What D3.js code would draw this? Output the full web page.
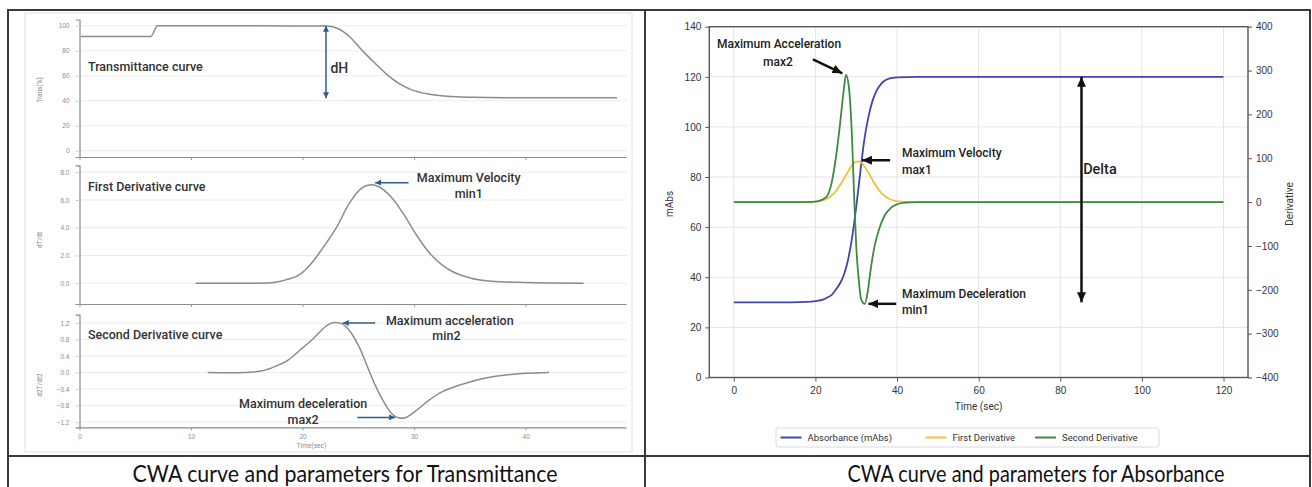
<!DOCTYPE html>
<html>
<head>
<meta charset="utf-8">
<script src="https://cdn.jsdelivr.net/npm/d3@7"></script>
<style>
  body { margin: 0; background: #fff; }
  svg { display: block; font-family: Roboto, "Noto Sans", sans-serif; }
</style>
</head>
<body>
<svg id="chart" width="1312" height="487"></svg>
<script>
// ---- left panel data (transmittance) ----
const transTime  = [0.1, 6.4, 7.0, 22.1, 23.1, 24.2, 25.3, 26.5, 27.6, 28.7, 29.8, 31.4, 32.9, 35.1, 38.1, 48.2];
const transValue = [91.5, 91.5, 100, 99.8, 98.0, 91.4, 80.7, 70.0, 60.7, 53.5, 48.7, 45.2, 43.6, 42.8, 42.5, 42.5];

const dT1Time  = [10.4, 15.5, 17.4, 18.5, 19.7, 20.8, 21.9, 23.1, 24.2, 25.3, 26.1, 26.8, 27.9, 29.1, 30.2, 31.4, 32.5, 33.6, 35.1, 37.0, 40.0, 45.2];
const dT1Value = [0, 0, 0.05, 0.24, 0.6, 1.44, 2.64, 4.1, 5.77, 6.85, 7.09, 6.97, 6.25, 4.93, 3.49, 2.16, 1.32, 0.77, 0.36, 0.14, 0.05, 0];

const dT2Time  = [11.5, 14.8, 16.4, 17.5, 18.7, 19.8, 21.0, 22.1, 22.8, 23.6, 24.3, 25.1, 25.8, 26.5, 27.3, 28.0, 28.6, 29.2, 30.2, 31.4, 32.5, 34.4, 36.3, 38.2, 40.0, 42.1];
const dT2Value = [0, 0, 0.04, 0.14, 0.3, 0.55, 0.83, 1.12, 1.21, 1.17, 0.98, 0.6, 0.15, -0.3, -0.72, -1.0, -1.1, -1.1, -0.92, -0.66, -0.47, -0.28, -0.14, -0.06, -0.02, 0];

const transTicks = [0, 20, 40, 60, 80, 100];
const dT1Ticks = [0, 2, 4, 6, 8];
const dT2Ticks = [-1.2, -0.8, -0.4, 0, 0.4, 0.8, 1.2];
const leftTimeTicks = [0, 10, 20, 30, 40];

// ---- right panel data (absorbance) ----
const absTime  = [0, 10, 18, 20, 22, 23, 24, 25, 26, 27, 28, 29, 30, 31, 32, 33, 34, 35, 36, 37, 38, 40, 45, 60, 120];
const absValue = [30, 30, 30.2, 30.5, 31.2, 32, 33, 35, 37.5, 41, 47, 56, 68, 82, 95, 104, 110.5, 114.5, 117, 118.5, 119.3, 119.8, 120, 120, 120];

const firstTime  = [0, 16, 18.4, 20.4, 22.4, 24.4, 26.4, 27.4, 28.4, 29.4, 30.4, 31.4, 32.4, 33.4, 34.4, 36.4, 38.4, 40.4, 42, 45, 120];
const firstValue = [0, 0, 0.3, 1.5, 6, 18, 44, 60, 76, 89, 93, 89, 76, 60, 44, 18, 6, 1.5, 0.3, 0, 0];

const secondTime  = [0, 17, 19, 20, 21, 22, 23, 24, 25, 26, 27, 27.5, 28.2, 29, 29.5, 30, 30.6, 31.2, 32.1, 32.8, 33.6, 34.4, 35.5, 37, 38.5, 40, 42, 45, 120];
const secondValue = [0, 0, 0.5, 1, 3, 7, 16, 45, 100, 175, 260, 290, 262, 140, 10, -100, -175, -222, -232, -205, -150, -105, -65, -30, -13, -5, -1, 0, 0];

const absTicks = [0, 20, 40, 60, 80, 100, 120, 140];
const derTicks = [-400, -300, -200, -100, 0, 100, 200, 300, 400];
const timeTicks = [0, 20, 40, 60, 80, 100, 120];

const legendItems = [["Absorbance (mAbs)", "#4343b5"], ["First Derivative", "#f0c03c"], ["Second Derivative", "#3f8a3f"]];

let svg = d3.select("#chart");

// arrow markers
let defs = svg.append("defs");
let addMarker = (id, color, w, h) => {
    defs.append("marker")
        .attr("id", id)
        .attr("viewBox", `0 0 ${w} ${h}`)
        .attr("refX", w).attr("refY", h / 2)
        .attr("markerWidth", w).attr("markerHeight", h)
        .attr("markerUnits", "userSpaceOnUse")
        .attr("orient", "auto-start-reverse")
        .append("path")
        .attr("d", `M0,0L${w},${h / 2}L0,${h}Z`)
        .attr("fill", color)
}
addMarker("blueHead", "#2b5f8e", 6, 6)
addMarker("blackHead", "#111", 10, 9)

// ============ LEFT PANEL ============
let drawLeft = () => {
    svg.append("rect").attr("x", 25).attr("y", 13).attr("width", 607).attr("height", 439)
       .attr("fill", "none").attr("stroke", "#e2e2e2").attr("stroke-width", 1)

    let x = d3.scaleLinear().domain([0, 49]).range([79.5, 626])

    let panels = [
        { t: transTime, v: transValue, y: d3.scaleLinear().domain([-5, 105]).range([157, 19.5]), curve: d3.curveMonotoneX,
          ticks: transTicks, fmt: d3.format("d"), label: "Trans(%)", labelY: 90, title: "Transmittance curve", titleV: 67.8 },
        { t: dT1Time, v: dT1Value, y: d3.scaleLinear().domain([-1.5, 8.5]).range([304, 165.3]), curve: d3.curveCatmullRom,
          ticks: dT1Ticks, fmt: d3.format(".1f"), label: "dT/dt", labelY: 240, title: "First Derivative curve", titleV: 6.96 },
        { t: dT2Time, v: dT2Value, y: d3.scaleLinear().domain([-1.33, 1.4]).range([427.3, 314.7]), curve: d3.curveCatmullRom,
          ticks: dT2Ticks, fmt: d3.format(".1f"), label: "d2T/dt2", labelY: 385, title: "Second Derivative curve", titleV: 0.92 }
    ]

    panels.forEach((p, i) => {
        let g = svg.append("g")
        // grid
        g.selectAll(".grid").data(p.ticks).enter().append("line")
         .attr("x1", x(0)).attr("x2", 627)
         .attr("y1", (d) => p.y(d)).attr("y2", (d) => p.y(d))
         .attr("stroke", "#ececec")
        // y axis
        let ya = g.append("g").attr("transform", `translate(${x(0)},0)`)
                  .call(d3.axisLeft(p.y).tickValues(p.ticks).tickFormat(p.fmt).tickSize(4).tickPadding(6))
        ya.select(".domain").attr("stroke", "#8a8a8a").attr("stroke-width", 1.2)
        ya.selectAll(".tick line").attr("stroke", "#cfcfcf")
        ya.selectAll("text").attr("fill", "#8a8a8a").style("font-size", "6.5px")
        // x axis
        let xa = g.append("g").attr("transform", `translate(0,${p.y.range()[0]})`)
                  .call(d3.axisBottom(x).tickValues(leftTimeTicks).tickSize(3).tickSizeOuter(0).tickPadding(4))
        xa.select(".domain").attr("stroke", "#8a8a8a").attr("stroke-width", 1.2)
        xa.selectAll(".tick line").attr("stroke", "#9a9a9a")
        xa.selectAll("text").attr("fill", "#8a8a8a").style("font-size", "6.5px")
        if (i < 2) xa.selectAll("text").remove()
        // y label
        g.append("text").text(p.label)
         .attr("transform", `translate(40,${p.labelY}) rotate(-90)`)
         .attr("text-anchor", "middle").attr("dominant-baseline", "central")
         .attr("fill", "#888").style("font-size", "6.5px")
        // curve
        g.append("path")
         .datum(d3.zip(p.t, p.v))
         .attr("fill", "none").attr("stroke", "#8c8c8c").attr("stroke-width", 1.5)
         .attr("d", d3.line().x((d) => x(d[0])).y((d) => p.y(d[1])).curve(p.curve))
        // title
        g.append("text").text(p.title)
         .attr("x", x(0.76)).attr("y", p.y(p.titleV))
         .attr("dominant-baseline", "central")
         .attr("fill", "#333").style("font-size", "12.5px").style("font-weight", 500)
        p.g = g
    })

    svg.append("text").text("Time(sec)")
       .attr("x", 311.5).attr("y", 446).attr("text-anchor", "middle").attr("dominant-baseline", "central")
       .attr("fill", "#888").style("font-size", "6.5px")

    let blueArrow = (g, x1, y1, x2, y2, both) => {
        g.append("line").attr("x1", x1).attr("y1", y1).attr("x2", x2).attr("y2", y2)
         .attr("stroke", "#2b5f8e").attr("stroke-width", 1.5)
         .attr("marker-end", "url(#blueHead)")
         .attr("marker-start", both ? "url(#blueHead)" : null)
    }
    let note = (g, txt, xx, yy, size) => {
        g.append("text").text(txt).attr("x", xx).attr("y", yy)
         .attr("text-anchor", "middle").attr("dominant-baseline", "central")
         .attr("fill", "#333").style("font-size", (size || 12.5) + "px").style("font-weight", 500)
    }

    // dH
    let p0 = panels[0]
    blueArrow(p0.g, x(22.1), p0.y(100), x(22.1), p0.y(42), true)
    p0.g.append("text").text("dH").attr("x", x(22.5)).attr("y", p0.y(66.2))
        .attr("dominant-baseline", "central").attr("fill", "#333")
        .style("font-size", "14px").style("font-weight", 500)

    // max velocity
    let p1 = panels[1]
    blueArrow(p1.g, x(29.5), p1.y(7.25), x(26.5), p1.y(7.25))
    note(p1.g, "Maximum Velocity", x(34.9), p1.y(7.59))
    note(p1.g, "min1", x(34.9), p1.y(6.5))

    // acceleration / deceleration
    let p2 = panels[2]
    blueArrow(p2.g, x(26.5), p2.y(1.2), x(23.6), p2.y(1.2))
    note(p2.g, "Maximum acceleration", x(33.2), p2.y(1.25))
    note(p2.g, "min2", x(32.9), p2.y(0.9))
    blueArrow(p2.g, x(24.9), p2.y(-1.09), x(28.3), p2.y(-1.09))
    note(p2.g, "Maximum deceleration", x(20.05), p2.y(-0.75))
    note(p2.g, "max2", x(20.05), p2.y(-1.14))
}

// ============ RIGHT PANEL ============
let drawRight = () => {
    let x = d3.scaleLinear().domain([-6, 126]).range([709.3, 1248])
    let yA = d3.scaleLinear().domain([0, 140]).range([377.5, 26.7])
    let yD = d3.scaleLinear().domain([-400, 400]).range([377.5, 26.7])
    let g = svg.append("g")

    // grid
    g.selectAll(".vgrid").data(timeTicks).enter().append("line")
     .attr("x1", (d) => x(d)).attr("x2", (d) => x(d)).attr("y1", yA(140)).attr("y2", yA(0))
     .attr("stroke", "#e4e4e4")
    g.selectAll(".hgrid").data(absTicks).enter().append("line")
     .attr("x1", x(-6)).attr("x2", x(126)).attr("y1", (d) => yA(d)).attr("y2", (d) => yA(d))
     .attr("stroke", "#e4e4e4")

    let line = (yScale) => d3.line().x((d) => x(d[0])).y((d) => yScale(d[1])).curve(d3.curveMonotoneX)
    g.append("path").datum(d3.zip(absTime, absValue))
     .attr("fill", "none").attr("stroke", legendItems[0][1]).attr("stroke-width", 1.8).attr("d", line(yA))
    g.append("path").datum(d3.zip(firstTime, firstValue))
     .attr("fill", "none").attr("stroke", legendItems[1][1]).attr("stroke-width", 1.8).attr("d", line(yD))
    g.append("path").datum(d3.zip(secondTime, secondValue))
     .attr("fill", "none").attr("stroke", legendItems[2][1]).attr("stroke-width", 1.8).attr("d", line(yD))

    // frame
    g.append("rect").attr("x", x(-6)).attr("y", yA(140))
     .attr("width", x(126) - x(-6)).attr("height", yA(0) - yA(140))
     .attr("fill", "none").attr("stroke", "#555").attr("stroke-width", 1.4)

    let styleAxis = (a) => {
        a.select(".domain").remove()
        a.selectAll(".tick line").attr("stroke", "#555")
        a.selectAll("text").attr("fill", "#333").style("font-size", "10px")
    }
    styleAxis(g.append("g").attr("transform", `translate(${x(-6)},0)`)
               .call(d3.axisLeft(yA).tickValues(absTicks).tickSize(4).tickPadding(4)))
    styleAxis(g.append("g").attr("transform", `translate(${x(126)},0)`)
               .call(d3.axisRight(yD).tickValues(derTicks).tickSize(4).tickPadding(4)))
    styleAxis(g.append("g").attr("transform", `translate(0,${yA(0)})`)
               .call(d3.axisBottom(x).tickValues(timeTicks).tickSize(4).tickPadding(5)))

    g.append("text").text("Time (sec)").attr("x", x(60)).attr("y", 406)
     .attr("text-anchor", "middle").attr("dominant-baseline", "central")
     .attr("fill", "#333").style("font-size", "10px")
    g.append("text").text("mAbs").attr("transform", "translate(669,204) rotate(-90)")
     .attr("text-anchor", "middle").attr("dominant-baseline", "central")
     .attr("fill", "#333").style("font-size", "10px")
    g.append("text").text("Derivative").attr("transform", "translate(1289,204) rotate(-90)")
     .attr("text-anchor", "middle").attr("dominant-baseline", "central")
     .attr("fill", "#333").style("font-size", "10px")

    // annotations
    let arrow = (t1, v1, t2, v2, both) => {
        g.append("line").attr("x1", x(t1)).attr("y1", yA(v1)).attr("x2", x(t2)).attr("y2", yA(v2))
         .attr("stroke", "#111").attr("stroke-width", 2.5)
         .attr("marker-end", "url(#blackHead)")
         .attr("marker-start", both ? "url(#blackHead)" : null)
    }
    let note = (txt, t, v, anchor, size) => {
        g.append("text").text(txt).attr("x", x(t)).attr("y", yA(v))
         .attr("text-anchor", anchor).attr("dominant-baseline", "central")
         .attr("fill", "#222").style("font-size", (size || 12) + "px").style("font-weight", 500)
    }
    arrow(19.4, 127, 26.6, 121.4)
    note("Maximum Acceleration", 11.1, 133, "middle")
    note("max2", 10.8, 125.8, "middle")
    arrow(38.3, 86.7, 31.4, 86.7)
    note("Maximum Velocity", 41.2, 89.7, "start")
    note("max1", 41.2, 83, "start")
    arrow(39.8, 29.4, 33.0, 29.4)
    note("Maximum Deceleration", 41.2, 33.3, "start")
    note("min1", 41.2, 27, "start")
    arrow(85.2, 120, 85.2, 30, true)
    note("Delta", 85.6, 83, "start", 14.5)

    // legend
    let lg = svg.append("g")
    lg.append("rect").attr("x", 776).attr("y", 428).attr("width", 383).attr("height", 19).attr("rx", 2)
      .attr("fill", "#fff").attr("stroke", "#dadada")
    let lx = [780.5, 925.5, 1035]
    legendItems.forEach((d, i) => {
        lg.append("line").attr("x1", lx[i]).attr("x2", lx[i] + 21).attr("y1", 437.5).attr("y2", 437.5)
          .attr("stroke", d[1]).attr("stroke-width", 2)
        lg.append("text").text(d[0]).attr("x", lx[i] + 27).attr("y", 437.5)
          .attr("dominant-baseline", "central").attr("fill", "#333").style("font-size", "9.5px")
    })
}

// ============ FRAME + CAPTIONS ============
let drawFrame = () => {
    let f = svg.append("g").attr("stroke", "#3a3a3a").attr("stroke-width", 2).attr("fill", "none")
    f.append("rect").attr("x", 8).attr("y", 10).attr("width", 1302).attr("height", 480)
    f.append("line").attr("x1", 8).attr("x2", 1310).attr("y1", 456).attr("y2", 456)
    f.append("line").attr("x1", 645).attr("x2", 645).attr("y1", 10).attr("y2", 487)

    let captions = [["CWA curve and parameters for Transmittance", 345, 425], ["CWA curve and parameters for Absorbance", 1036, 377]]
    captions.forEach((c) => {
        svg.append("text").text(c[0]).attr("x", c[1]).attr("y", 481.5)
           .attr("text-anchor", "middle").attr("textLength", c[2]).attr("lengthAdjust", "spacingAndGlyphs")
           .attr("fill", "#111").style("font-family", "Lato, 'Open Sans', sans-serif").style("font-size", "24px")
    })
}

drawLeft()
drawRight()
drawFrame()
</script>
</body>
</html>
